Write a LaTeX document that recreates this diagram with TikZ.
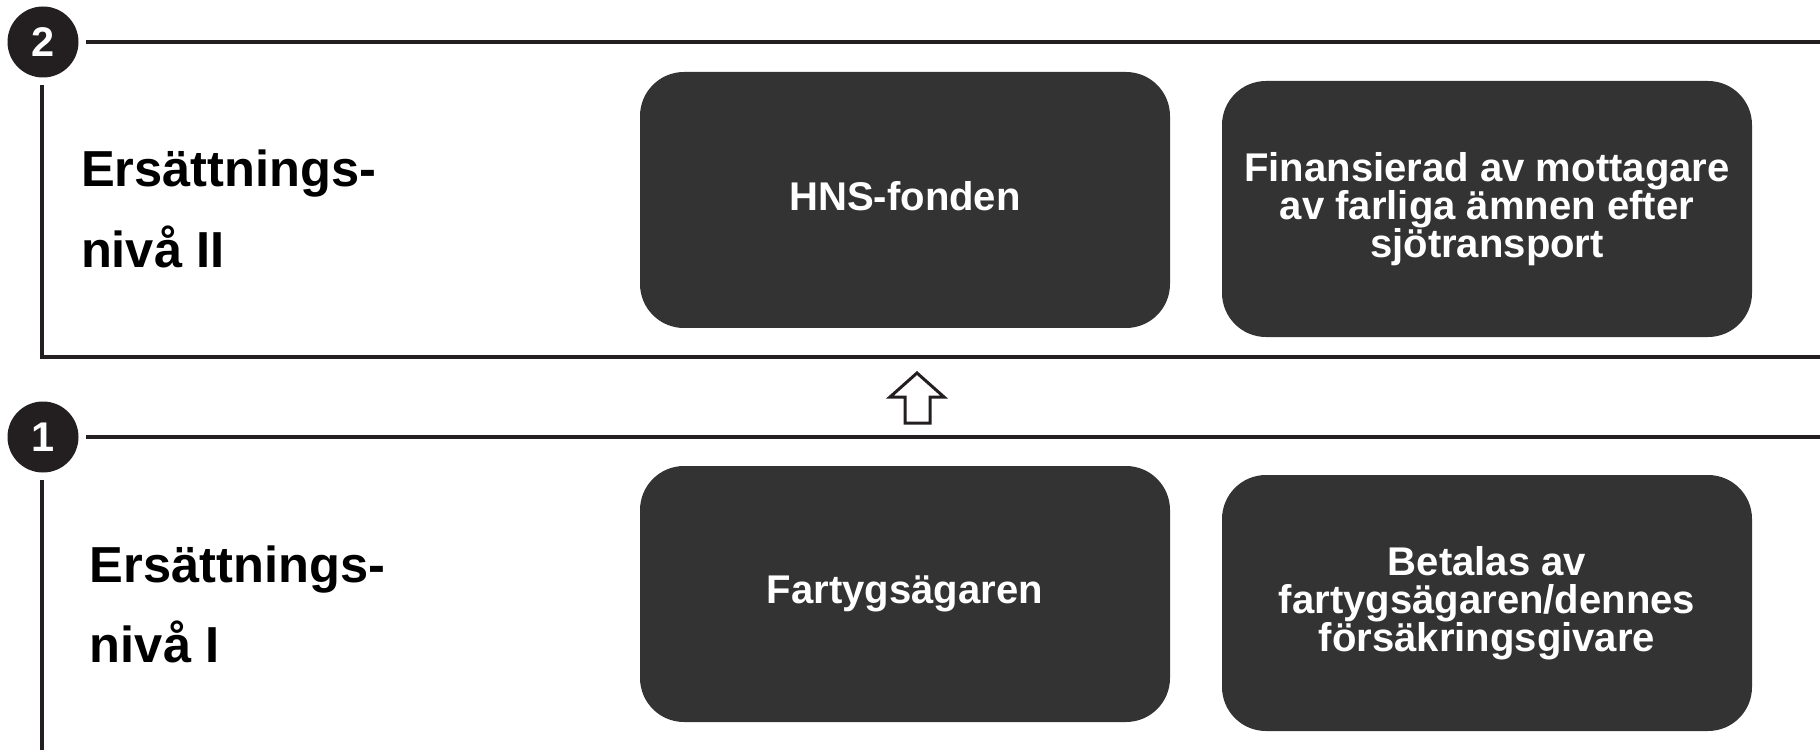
\documentclass[tikz,border=0pt]{standalone}
\usepackage{fontspec}
\setmainfont{Liberation Sans}
\definecolor{boxgray}{HTML}{333333}
\definecolor{ink}{HTML}{231F20}
\begin{document}
\begin{tikzpicture}[x=0.1mm,y=-0.1mm,line width=0.4mm,
	box/.style={fill=boxgray,rounded corners=4.4mm,minimum width=53mm,minimum height=25.6mm,inner sep=0pt,text=white,align=center,font=\bfseries\fontsize{11.4}{10.8}\selectfont},
	num/.style={circle,fill=ink,minimum size=7.1mm,inner sep=0pt,text=white,font=\bfseries\fontsize{11.8}{12}\selectfont},
	lab/.style={anchor=base west,inner sep=0pt,font=\bfseries\fontsize{14.4}{16}\selectfont}]
	\useasboundingbox (0,0) rectangle (1820,750);
	% niva 2
	\node[num] (n2) at (43,42) {2};
	\draw[ink] (86,42) -- (1820,42);
	\draw[ink] (42,85) -- (42,357) -- (1820,357);
	\node[lab] (lab2a) at (79,187) {Ersättnings-};
	\node[lab] (lab2b) at (79,267) {nivå II};
	\node[box,text depth=2.4pt] (hns) at (905,200) {HNS-fonden};
	\node[box] (fin) at (1487,209) {Finansierad av mottagare\\av farliga ämnen efter\\sjötransport};
	% pil upp
	\draw[ink,line width=0.3mm] (917,373) -- (944,397) -- (930,397) -- (930,423) -- (905,423) -- (905,397) -- (890,397) -- cycle;
	% niva 1
	\node[num] (n1) at (43,437) {1};
	\draw[ink] (86,437) -- (1820,437);
	\draw[ink] (42,480) -- (42,750);
	\node[lab] (lab1a) at (88,582) {Ersättnings-};
	\node[lab] (lab1b) at (88,662) {nivå I};
	\node[box] (fart) at (905,594) {Fartygsägaren};
	\node[box] (bet) at (1487,603) {Betalas av\\fartygsägaren/dennes\\försäkringsgivare};
\end{tikzpicture}
\end{document}
